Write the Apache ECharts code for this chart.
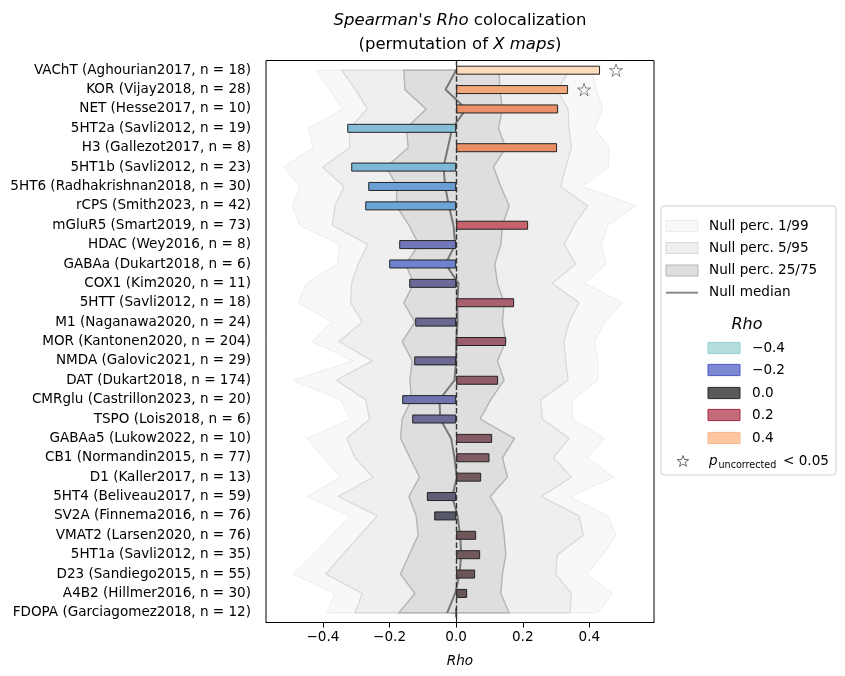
<!DOCTYPE html>
<html><head><meta charset="utf-8">
<script src="https://cdn.jsdelivr.net/npm/echarts@6/dist/echarts.min.js"></script>
<style>html,body{margin:0;padding:0;background:#fff}#c{width:845px;height:676px}</style>
</head><body><div id="c"></div>
<script>
const categories = [
  "VAChT (Aghourian2017, n = 18)", "KOR (Vijay2018, n = 28)", "NET (Hesse2017, n = 10)",
  "5HT2a (Savli2012, n = 19)", "H3 (Gallezot2017, n = 8)", "5HT1b (Savli2012, n = 23)",
  "5HT6 (Radhakrishnan2018, n = 30)", "rCPS (Smith2023, n = 42)", "mGluR5 (Smart2019, n = 73)",
  "HDAC (Wey2016, n = 8)", "GABAa (Dukart2018, n = 6)", "COX1 (Kim2020, n = 11)",
  "5HTT (Savli2012, n = 18)", "M1 (Naganawa2020, n = 24)", "MOR (Kantonen2020, n = 204)",
  "NMDA (Galovic2021, n = 29)", "DAT (Dukart2018, n = 174)", "CMRglu (Castrillon2023, n = 20)",
  "TSPO (Lois2018, n = 6)", "GABAa5 (Lukow2022, n = 10)", "CB1 (Normandin2015, n = 77)",
  "D1 (Kaller2017, n = 13)", "5HT4 (Beliveau2017, n = 59)", "SV2A (Finnema2016, n = 76)",
  "VMAT2 (Larsen2020, n = 76)", "5HT1a (Savli2012, n = 35)", "D23 (Sandiego2015, n = 55)",
  "A4B2 (Hillmer2016, n = 30)", "FDOPA (Garciagomez2018, n = 12)"
];
const rho = [0.432, 0.336, 0.306, -0.327, 0.303, -0.315, -0.264, -0.273, 0.216, -0.171,
  -0.201, -0.141, 0.174, -0.123, 0.150, -0.126, 0.126, -0.162, -0.132, 0.108,
  0.100, 0.075, -0.088, -0.066, 0.060, 0.072, 0.057, 0.033, 0.0];
const significant = [true, true, false, false, false, false, false, false, false, false,
  false, false, false, false, false, false, false, false, false, false,
  false, false, false, false, false, false, false, false, false];
const nullP1 = [-0.421, -0.380, -0.340, -0.443, -0.430, -0.518, -0.468, -0.491, -0.470, -0.350,
  -0.355, -0.450, -0.473, -0.373, -0.432, -0.309, -0.490, -0.348, -0.317, -0.447,
  -0.398, -0.347, -0.448, -0.317, -0.374, -0.431, -0.489, -0.365, -0.387];
const nullP5 = [-0.344, -0.302, -0.267, -0.320, -0.320, -0.401, -0.337, -0.364, -0.372, -0.265,
  -0.294, -0.314, -0.317, -0.282, -0.352, -0.252, -0.360, -0.272, -0.260, -0.328,
  -0.304, -0.250, -0.354, -0.237, -0.289, -0.341, -0.392, -0.282, -0.304];
const nullP25 = [-0.157, -0.154, -0.090, -0.149, -0.144, -0.210, -0.177, -0.180, -0.142, -0.112,
  -0.152, -0.127, -0.157, -0.124, -0.162, -0.132, -0.139, -0.134, -0.162, -0.167,
  -0.139, -0.110, -0.142, -0.120, -0.114, -0.141, -0.167, -0.124, -0.172];
const nullP50 = [0.000, -0.032, 0.030, -0.012, -0.025, -0.038, -0.033, -0.022, -0.008, -0.003,
  -0.032, 0.007, 0.003, 0.004, 0.000, 0.000, -0.005, -0.050, -0.048, -0.015,
  -0.005, 0.002, -0.012, 0.004, 0.012, 0.015, 0.010, -0.003, -0.027];
const nullP75 = [0.129, 0.131, 0.139, 0.127, 0.149, 0.112, 0.134, 0.159, 0.139, 0.134,
  0.116, 0.124, 0.144, 0.139, 0.149, 0.124, 0.144, 0.104, 0.072, 0.175,
  0.139, 0.154, 0.102, 0.136, 0.144, 0.149, 0.139, 0.134, 0.159];
const nullP95 = [0.342, 0.302, 0.336, 0.339, 0.346, 0.329, 0.314, 0.395, 0.354, 0.324,
  0.359, 0.289, 0.369, 0.339, 0.324, 0.329, 0.336, 0.254, 0.259, 0.339,
  0.292, 0.346, 0.256, 0.369, 0.382, 0.304, 0.299, 0.346, 0.342];
const nullP99 = [0.408, 0.420, 0.440, 0.415, 0.460, 0.457, 0.379, 0.540, 0.455, 0.435,
  0.450, 0.386, 0.500, 0.445, 0.415, 0.425, 0.425, 0.349, 0.349, 0.445,
  0.393, 0.473, 0.342, 0.455, 0.480, 0.440, 0.393, 0.468, 0.425];
const xTickValues = [-0.4, -0.2, 0.0, 0.2, 0.4];
const legendRhoValues = [-0.4, -0.2, 0.0, 0.2, 0.4];
const bandLegendLabels = ["Null perc. 1/99", "Null perc. 5/95", "Null perc. 25/75"];
const medianLegendLabel = "Null median";

// ---- styles ----
const FONT = "DejaVu Sans";
const cmapStops = [
  [-0.33, '#86bdd6'], [-0.30, '#78b1d6'], [-0.27, '#6aa3d6'], [-0.20, '#6d83d0'],
  [-0.17, '#7078b8'], [-0.14, '#6c6a98'], [-0.12, '#6a6890'], [-0.09, '#5f5e7a'],
  [-0.065, '#565869'], [0.0, '#555555'], [0.03, '#675455'], [0.06, '#6e5659'],
  [0.075, '#735a5f'], [0.10, '#815b63'], [0.125, '#8e5b68'], [0.15, '#9b5e6c'],
  [0.175, '#ab6070'], [0.215, '#c7626d'], [0.30, '#ea8c64'], [0.335, '#f1a679'], [0.43, '#fddcbc']
];
function hex2rgb(h){return [parseInt(h.substr(1,2),16),parseInt(h.substr(3,2),16),parseInt(h.substr(5,2),16)];}
function cmap(v){
  if (v <= cmapStops[0][0]) return cmapStops[0][1];
  for (let k = 1; k < cmapStops.length; k++) {
    if (v <= cmapStops[k][0]) {
      const t = (v - cmapStops[k-1][0]) / (cmapStops[k][0] - cmapStops[k-1][0]);
      const a = hex2rgb(cmapStops[k-1][1]), b = hex2rgb(cmapStops[k][1]);
      return 'rgb(' + a.map((x, j) => Math.round(x + (b[j]-x)*t)).join(',') + ')';
    }
  }
  return cmapStops[cmapStops.length-1][1];
}
const legendPatch = [
  {fill:'#b4dedd', stroke:'#94d0cf'}, {fill:'#7c88d2', stroke:'#4a5cc4'},
  {fill:'#5a5a5a', stroke:'#2b2b2b'}, {fill:'#c46b7a', stroke:'#a52c45'},
  {fill:'#fdc7a1', stroke:'#fbb58a'}
];
const bandStyles = [
  {fill:'#f8f8f8', stroke:'#ececec', lw:1},
  {fill:'#efefef', stroke:'#d8d8d8', lw:1.2},
  {fill:'#dedede', stroke:'#b4b4b4', lw:1.4}
];
const fmt = v => (v < 0 ? '\u2212' : '') + Math.abs(v).toFixed(1);

function bandSeries(lo, hi, st, z){
  return {
    type:'custom', coordinateSystem:'cartesian2d', z:z, silent:true, clip:false,
    data:[[0,0]],
    renderItem:function(params, api){
      const pts = [];
      for (let i = 0; i < lo.length; i++) pts.push(api.coord([lo[i], i]));
      for (let i = hi.length-1; i >= 0; i--) pts.push(api.coord([hi[i], i]));
      return {type:'polygon', shape:{points:pts}, style:{fill:st.fill, stroke:st.stroke, lineWidth:st.lw}};
    }
  };
}
const starPath = 'path://M50,0 L61.8,35.1 L98.9,35.1 L69.1,57.3 L80.3,92.7 L50,71 L19.7,92.7 L30.9,57.3 L1.1,35.1 L38.2,35.1 Z';
function starPoints(cx, cy, R, r){
  const p = [];
  for (let k = 0; k < 10; k++) {
    const ang = -Math.PI/2 + k*Math.PI/5, rad = k%2===0 ? R : r;
    p.push([cx + rad*Math.cos(ang), cy + rad*Math.sin(ang)]);
  }
  return p;
}

// ---- legend graphics ----
const TF = 16.5;
const graphics = [];
graphics.push({type:'text', x:460, y:21, style:{text:"{i|Spearman's Rho} colocalization", align:'center', verticalAlign:'middle', fontSize:TF, fontFamily:FONT, fill:'#000', rich:{i:{fontStyle:'italic', fontSize:TF, fontFamily:FONT, fill:'#000'}}}});
graphics.push({type:'text', x:460, y:45, style:{text:"(permutation of {i|X maps})", align:'center', verticalAlign:'middle', fontSize:TF, fontFamily:FONT, fill:'#000', rich:{i:{fontStyle:'italic', fontSize:TF, fontFamily:FONT, fill:'#000'}}}});
graphics.push({type:'rect', shape:{x:661, y:206, width:175, height:269, r:3}, style:{fill:'#fff', stroke:'#d0d0d0', lineWidth:1}, z:10});
const bandLegY = [226, 248, 270.5];
bandLegendLabels.forEach((lab, k) => {
  graphics.push({type:'rect', shape:{x:666, y:bandLegY[k]-5.5, width:32, height:11}, style:{fill:bandStyles[k].fill, stroke:bandStyles[k].stroke, lineWidth:1}, z:11});
  graphics.push({type:'text', x:709, y:bandLegY[k], style:{text:lab, verticalAlign:'middle', fontSize:13.6, fontFamily:FONT, fill:'#000'}, z:11});
});
graphics.push({type:'line', shape:{x1:666, y1:292.7, x2:698, y2:292.7}, style:{stroke:'#888', lineWidth:2}, z:11});
graphics.push({type:'text', x:709, y:292.7, style:{text:medianLegendLabel, verticalAlign:'middle', fontSize:13.6, fontFamily:FONT, fill:'#000'}, z:11});
graphics.push({type:'text', x:747, y:325, style:{text:'Rho', align:'center', verticalAlign:'middle', fontSize:16, fontStyle:'italic', fontFamily:FONT, fill:'#000'}, z:11});
const rhoLegY = [348, 370, 393, 415, 438];
legendRhoValues.forEach((v, k) => {
  graphics.push({type:'rect', shape:{x:708, y:rhoLegY[k]-5.6, width:32, height:11.2}, style:{fill:legendPatch[k].fill, stroke:legendPatch[k].stroke, lineWidth:1}, z:11});
  graphics.push({type:'text', x:752, y:rhoLegY[k], style:{text:fmt(v), verticalAlign:'middle', fontSize:13.6, fontFamily:FONT, fill:'#000'}, z:11});
});
graphics.push({type:'polygon', shape:{points:starPoints(683, 461.5, 6, 2.5)}, style:{fill:'none', stroke:'#444', lineWidth:0.8}, z:11});
graphics.push({type:'text', x:709, y:461.5, style:{text:'p', verticalAlign:'middle', fontSize:13.6, fontStyle:'italic', fontFamily:FONT, fill:'#000'}, z:11});
graphics.push({type:'text', x:718.5, y:465.5, style:{text:'uncorrected', verticalAlign:'middle', fontSize:9.6, fontFamily:FONT, fill:'#000'}, z:11});
graphics.push({type:'text', x:783, y:461.5, style:{text:'< 0.05', verticalAlign:'middle', fontSize:13.6, fontFamily:FONT, fill:'#000'}, z:11});

const chart = echarts.init(document.getElementById('c'), null, {renderer:'canvas'});
chart.setOption({
  backgroundColor:'#fff',
  animation:false,
  grid:{left:266, right:191, top:60.5, bottom:53.5, show:true, borderColor:'#000', borderWidth:1, backgroundColor:'transparent', containLabel:false},
  xAxis:{
    type:'value', min:-0.571, max:0.594,
    axisLine:{show:true, onZero:false, lineStyle:{color:'#000', width:1}},
    axisTick:{show:true, customValues:xTickValues, length:5, lineStyle:{color:'#000'}},
    axisLabel:{customValues:xTickValues, formatter:fmt, fontSize:13.6, fontFamily:FONT, color:'#000', margin:8},
    splitLine:{show:false},
    name:'Rho', nameLocation:'middle', nameGap:32,
    nameTextStyle:{fontStyle:'italic', fontSize:13.6, fontFamily:FONT, color:'#000'}
  },
  yAxis:{
    type:'category', data:categories, inverse:true, boundaryGap:true,
    axisLine:{show:true, lineStyle:{color:'#000', width:1}},
    axisTick:{show:true, alignWithLabel:true, length:5, lineStyle:{color:'#000'}},
    axisLabel:{fontSize:13.55, fontFamily:FONT, color:'#000', margin:15, interval:0},
    splitLine:{show:false}
  },
  graphic:graphics,
  series:[
    bandSeries(nullP1, nullP99, bandStyles[0], 1),
    bandSeries(nullP5, nullP95, bandStyles[1], 1.1),
    bandSeries(nullP25, nullP75, bandStyles[2], 1.2),
    {
      type:'line', z:3, silent:true, symbol:'none', smooth:false,
      data:nullP50.map((v, i) => [v, i]),
      lineStyle:{color:'#555', width:2, opacity:0.75}
    },
    {
      type:'bar', z:4, barWidth:9,
      data:rho.map(v => ({value:v, itemStyle:{color:cmap(v)}})),
      itemStyle:{borderColor:'#222', borderWidth:1},
      markLine:{silent:true, symbol:['none','none'], label:{show:false}, z:5,
        lineStyle:{color:'#333', type:[5.5,2.4], width:1.4},
        data:[{xAxis:0}]}
    },
    {
      type:'scatter', z:5, symbol:starPath, symbolSize:[13,12.5],
      data:rho.map((v, i) => significant[i] ? [v + 0.048, i] : null).filter(d => d),
      itemStyle:{color:'rgba(0,0,0,0)', borderColor:'#555', borderWidth:0.9}
    }
  ]
});
</script></body></html>
